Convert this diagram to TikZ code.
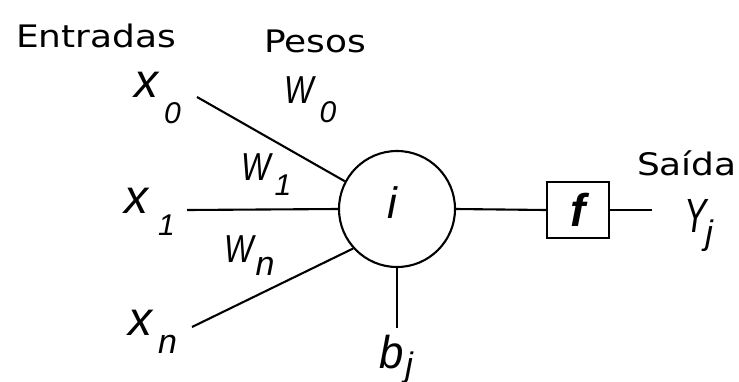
\documentclass[tikz,border=0pt]{standalone}
\usepackage{graphicx}
\usepackage{fontspec}
\setmainfont{Liberation Sans}
\newfontfamily\uprfont{DejaVu Sans}
\newcommand\upr[1]{\scalebox{1.16}[1]{\fontsize{31}{31}\uprfont\selectfont #1}}
% size, xscale, letter, subsize, sub, gap, drop
\newcommand\mylbl[7]{\scalebox{#2}[1]{\fontsize{#1}{#1}\selectfont\itshape #3}\hspace{#6pt}\raisebox{-#7pt}{\fontsize{#4}{#4}\selectfont\itshape #5}}
\begin{document}
\begin{tikzpicture}[x=1pt,y=-1pt,line width=2.1pt,
  lbl/.style={inner sep=0pt,anchor=base west},
  neuronstyle/.style={draw,circle,minimum size=116pt,inner sep=0pt},
  fbox/.style={draw,minimum width=62pt,minimum height=56pt,inner sep=0pt}]
\useasboundingbox (0,0) rectangle (739,381);
\node[neuronstyle] (neuron) at (397,209) {};
\node[lbl] (itext) at (386,218) {\fontsize{44}{44}\selectfont\itshape i};
\node[fbox] (f) at (578,210) {\fontsize{46}{46}\selectfont\bfseries\itshape f};
\coordinate (c0) at (197,97);
\coordinate (c1) at (187,210);
\coordinate (cn) at (192,327);
\coordinate (cb) at (397,328);
\coordinate (cy) at (652,210);
\draw (c0) -- (neuron.152);
\draw (c1) -- (neuron.west);
\draw (cn) -- (neuron.222);
\draw (neuron.south) -- (cb);
\draw (neuron.east) -- (f.west);
\draw (f.east) -- (cy);
% texts
\node[lbl] (entradas) at (15,47) {\upr{Entradas}};
\node[lbl] (pesos) at (263,52) {\upr{Pesos}};
\node[lbl] (saida) at (636,175) {\upr{Saída}};
\node[lbl] (x0) at (133,97) {\mylbl{48}{1}{x}{30}{0}{6}{26}};
\node[lbl] (x1) at (123,213) {\mylbl{48}{1}{x}{30}{1}{10}{22}};
\node[lbl] (xn) at (127,335) {\mylbl{48}{1}{x}{34}{n}{6}{18}};
\node[lbl] (w0) at (283,103) {\mylbl{39}{0.8}{W}{30}{0}{6}{19}};
\node[lbl] (w1) at (240,180) {\mylbl{39}{0.8}{W}{30}{1}{4}{15}};
\node[lbl] (wn) at (223,262) {\mylbl{39}{0.8}{W}{34}{n}{2}{13}};
\node[lbl] (bj) at (378,368) {\mylbl{46}{0.95}{b}{34}{j}{2}{8}};
\node[lbl] (yj) at (683,232) {\mylbl{48}{0.7}{Y}{34}{j}{-1}{12}};
\end{tikzpicture}
\end{document}
